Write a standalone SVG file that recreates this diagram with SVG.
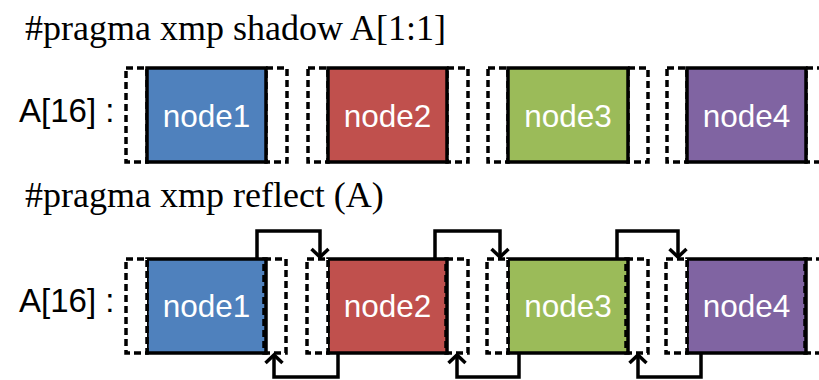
<svg xmlns="http://www.w3.org/2000/svg" width="819" height="380" viewBox="0 0 819 380">
  <style>
    .title { font-family: "Liberation Serif", "Times New Roman", serif; font-size: 36px; fill: #000; }
    .arr { font-family: "Liberation Sans", Arial, sans-serif; font-size: 33px; fill: #000; }
    .node rect { stroke: #000; stroke-width: 3.5; }
    .label { font-family: "Liberation Sans", Arial, sans-serif; font-size: 31.5px; fill: #fff; text-anchor: middle; }
    .shadow { fill: #fff; stroke: #000; stroke-width: 3.5; stroke-dasharray: 7 4; }
    .shadow-over { fill: none; stroke: #000; stroke-width: 3.5; stroke-dasharray: 7 4; }
    .link { fill: none; stroke: #000; stroke-width: 3.5; marker-end: url(#head); }
    .blue { fill: #4F81BD; } .red { fill: #C0504D; } .green { fill: #9BBB59; } .purple { fill: #8064A2; }
  </style>
  <defs>
    <marker id="head" viewBox="0 0 20 20" refX="10" refY="10" markerWidth="20" markerHeight="20" markerUnits="userSpaceOnUse" orient="auto">
      <path d="M2,1.5 L10,10 L2,18.5" fill="none" stroke="#000" stroke-width="3.5"/>
    </marker>
  </defs>

  <text class="title" x="25" y="40">#pragma xmp shadow A[1:1]</text>
  <text class="title" x="25" y="207">#pragma xmp reflect (A)</text>

  <text class="arr" x="19" y="122">A[16] :</text>
  <text class="arr" x="19" y="312">A[16] :</text>

  <!-- shadow row: halo regions behind each block -->
  <g id="shadow-row">
    <rect class="shadow" x="126" y="68" width="21" height="94"/>
    <rect class="shadow" x="266" y="68" width="21" height="94"/>
    <rect class="shadow" x="308" y="68" width="20" height="94"/>
    <rect class="shadow" x="447" y="68" width="21" height="94"/>
    <rect class="shadow" x="488" y="68" width="20" height="94"/>
    <rect class="shadow" x="628" y="68" width="20" height="94"/>
    <rect class="shadow" x="667" y="68" width="20" height="94"/>
    <rect class="shadow" x="806" y="68" width="21" height="94"/>
  </g>
  <g id="s-node1" class="node"><rect class="blue" x="147" y="68" width="119" height="94"/><text class="label" x="206.5" y="127">node1</text></g>
  <g id="s-node2" class="node"><rect class="red" x="328" y="68" width="119" height="94"/><text class="label" x="387.5" y="127">node2</text></g>
  <g id="s-node3" class="node"><rect class="green" x="508" y="68" width="120" height="94"/><text class="label" x="568" y="127">node3</text></g>
  <g id="s-node4" class="node"><rect class="purple" x="687" y="68" width="119" height="94"/><text class="label" x="746.5" y="127">node4</text></g>

  <!-- reflect row -->
  <g id="r-node1" class="node"><rect class="blue" x="147" y="259" width="119" height="94"/><text class="label" x="206.5" y="317">node1</text></g>
  <g id="r-node2" class="node"><rect class="red" x="328" y="259" width="119" height="94"/><text class="label" x="387.5" y="317">node2</text></g>
  <g id="r-node3" class="node"><rect class="green" x="508" y="259" width="120" height="94"/><text class="label" x="568" y="317">node3</text></g>
  <g id="r-node4" class="node"><rect class="purple" x="687" y="259" width="119" height="94"/><text class="label" x="746.5" y="317">node4</text></g>
  <g id="reflect-shadows">
    <rect class="shadow" x="126" y="259" width="21" height="94"/>
    <rect class="shadow-over" x="264" y="259" width="22" height="94"/>
    <rect class="shadow" x="307" y="259" width="21" height="94"/>
    <rect class="shadow-over" x="446" y="259" width="22" height="94"/>
    <rect class="shadow" x="487" y="259" width="21" height="94"/>
    <rect class="shadow-over" x="626" y="259" width="22" height="94"/>
    <rect class="shadow" x="666" y="259" width="21" height="94"/>
    <rect class="shadow-over" x="805" y="259" width="22" height="94"/>
  </g>

  <g id="connectors">
    <path class="link" d="M257,259 V231 H320 V257"/>
    <path class="link" d="M435,259 V231 H500 V257"/>
    <path class="link" d="M617,259 V231 H678 V257"/>
    <path class="link" d="M338,353 V377 H274 V355"/>
    <path class="link" d="M519,353 V377 H457 V355"/>
    <path class="link" d="M701,353 V377 H638 V355"/>
  </g>
</svg>
